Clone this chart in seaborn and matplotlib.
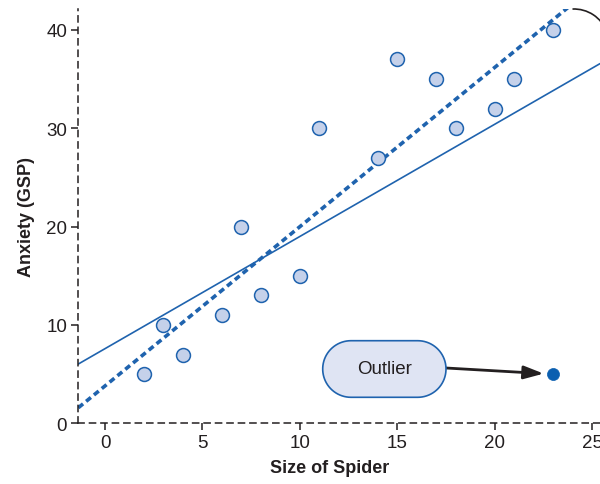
import matplotlib
matplotlib.use("Agg")
import matplotlib.pyplot as plt
import seaborn as sns
import pandas as pd
import numpy as np
from matplotlib.patches import Polygon, Arc
from matplotlib.transforms import IdentityTransform

# ---- data ----
spider_size = [2, 3, 4, 6, 7, 8, 10, 11, 14, 15, 17, 18, 20, 21, 23]
anxiety = [5, 10, 7, 11, 20, 13, 15, 30, 27, 37, 35, 30, 32, 35, 40]
outlier_size = [23]
outlier_anxiety = [5]
x_ticks = [0, 5, 10, 15, 20, 25]
y_ticks = [0, 10, 20, 30, 40]
outlier_label = "Outlier"

main = pd.DataFrame({"size": spider_size, "anxiety": anxiety})
allpts = pd.DataFrame({"size": spider_size + outlier_size,
                       "anxiety": anxiety + outlier_anxiety})
out = pd.DataFrame({"size": outlier_size, "anxiety": outlier_anxiety})

sns.set_theme(style="white")
plt.rcParams['font.family'] = ['Liberation Sans', 'DejaVu Sans']

BLUE = "#1f63ae"
FILL = "#c5d1ea"
TXT = "#231f20"

fig = plt.figure(figsize=(6.0, 4.85), dpi=100)
ax = fig.add_axes([0.1305, 0.125, 0.8695, 0.854])
ax.set_xlim(-1.37, 25.39)
ax.set_ylim(0, 42.1)

# regression lines
sns.regplot(data=allpts, x="size", y="anxiety", scatter=False, ci=None,
            truncate=False, ax=ax, line_kws=dict(color=BLUE, lw=1.2))
sns.regplot(data=main, x="size", y="anxiety", scatter=False, ci=None,
            truncate=False, ax=ax,
            line_kws=dict(color=BLUE, lw=2.6, linestyle=(0, (1.7, 1.1))))

# points
sns.scatterplot(data=main, x="size", y="anxiety", ax=ax, s=100,
                color=FILL, edgecolor=BLUE, linewidth=1.1, zorder=5)
sns.scatterplot(data=out, x="size", y="anxiety", ax=ax, s=75,
                color="#0b5fb0", edgecolor="#0b5fb0", linewidth=0.5, zorder=5)

ax.set_xlim(-1.37, 25.39)
ax.set_ylim(0, 42.1)

# outlier label box (pill shape, drawn in pixel space)
px0, px1, py0, py1 = 322.7, 446.0, 86.7, 143.3
r = (py1 - py0) / 2
cy = (py0 + py1) / 2
tr = np.linspace(-np.pi / 2, np.pi / 2, 40)
tl = np.linspace(np.pi / 2, 3 * np.pi / 2, 40)
verts = np.vstack([
    np.column_stack([px1 - r + r * np.cos(tr), cy + r * np.sin(tr)]),
    np.column_stack([px0 + r + r * np.cos(tl), cy + r * np.sin(tl)]),
])
box = Polygon(verts, closed=True, transform=IdentityTransform(),
              fc="#dfe4f3", ec=BLUE, lw=1.2, zorder=6)
fig.add_artist(box)
fig.text((px0 + px1) / 2 / 600, cy / 485, outlier_label,
         ha="center", va="center", fontsize=13.5, color=TXT, zorder=7)
ax.annotate("", xy=(outlier_size[0], outlier_anxiety[0]),
            xytext=(px1 / 600, 116 / 485), textcoords="figure fraction",
            arrowprops=dict(arrowstyle="-|>,head_length=1.0,head_width=0.33",
                            color=TXT, lw=2, shrinkA=0, shrinkB=7),
            zorder=7)

# arc at top right
arc = Arc((574 / 600, 1 - 45 / 485), 70 / 600, 70 / 485,
          transform=fig.transFigure, theta1=25, theta2=92, color=TXT, lw=1.2,
          clip_on=False)
fig.add_artist(arc)

# axes styling
for s in ["top", "right"]:
    ax.spines[s].set_visible(False)
for s in ["left", "bottom"]:
    ax.spines[s].set_linestyle((0, (4, 3.5)))
    ax.spines[s].set_color(TXT)
    ax.spines[s].set_linewidth(1.1)
ax.set_xticks(x_ticks)
ax.set_yticks(y_ticks)
ax.tick_params(axis="both", direction="out", length=5, width=1.1,
               color=TXT, labelcolor=TXT, labelsize=13.5, pad=3,
               bottom=True, left=True)
ax.set_xlabel("Size of Spider", fontsize=13, fontweight="bold", color=TXT,
              labelpad=3)
ax.set_ylabel("Anxiety (GSP)", fontsize=13, fontweight="bold", color=TXT,
              labelpad=8)
ax.xaxis.set_label_coords(0.482, -0.085)

fig.savefig("out.png", dpi=100)
